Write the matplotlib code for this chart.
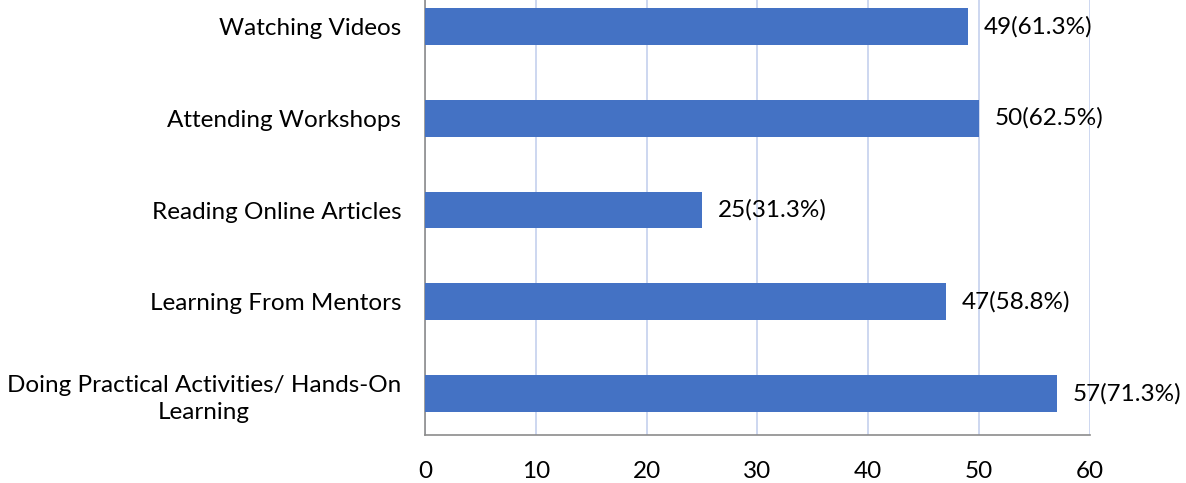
import matplotlib.pyplot as plt
import numpy as np

categories = ['Doing Practical Activities/ Hands-On\nLearning',
              'Learning From Mentors',
              'Reading Online Articles',
              'Attending Workshops',
              'Watching Videos']
counts = [57, 47, 25, 50, 49]
percents = [71.3, 58.8, 31.3, 62.5, 61.3]
xticks = [0, 10, 20, 30, 40, 50, 60]

plt.rcParams['font.family'] = ['Lato', 'DejaVu Sans']

fig = plt.figure(figsize=(11.86, 4.83), dpi=100)
ax = fig.add_axes([0.3583, 0.0994, 0.5607, 0.941])

y = np.arange(len(categories))
bars = ax.barh(y, counts, height=0.4, color='#4472C4', zorder=3)

# value labels next to each bar
for yi, c, p in zip(y, counts, percents):
    ax.text(c + 1.4, yi, '%d(%.1f%%)' % (c, p), va='center', ha='left',
            fontsize=17.5, color='#000000')

ax.set_xlim(0, 60)
ax.set_ylim(-0.45, 4.5)
ax.set_xticks(xticks)
ax.set_yticks(y)
ax.set_yticklabels(categories, multialignment='center', linespacing=1.35)

ax.grid(axis='x', color='#C5D1EE', linewidth=1.2, zorder=0)
ax.grid(axis='y', visible=False)
ax.tick_params(axis='both', length=0, labelsize=17.5)
ax.tick_params(axis='x', pad=19)
ax.tick_params(axis='y', pad=17)

for side in ['top', 'right']:
    ax.spines[side].set_visible(False)
for side in ['left', 'bottom']:
    ax.spines[side].set_color('#8C8C8C')
    ax.spines[side].set_linewidth(1.2)

fig.savefig('out.png', dpi=100)
